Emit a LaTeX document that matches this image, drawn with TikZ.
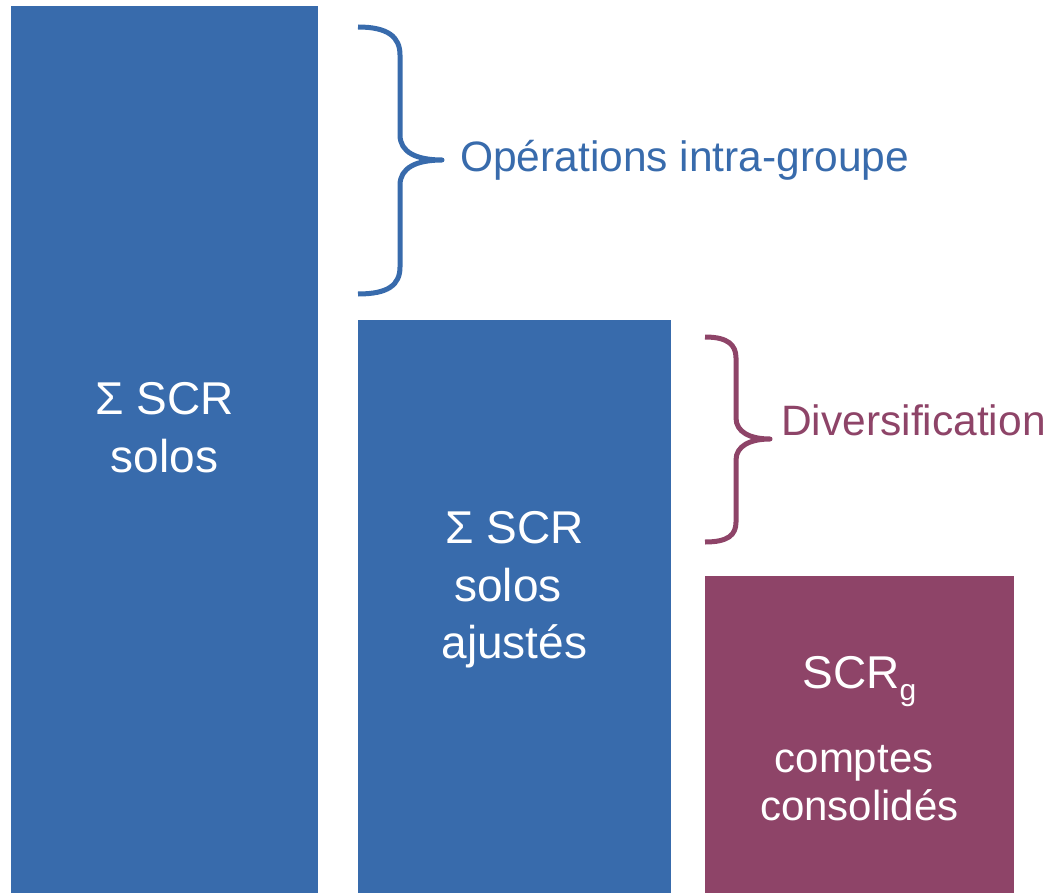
\documentclass[tikz,border=0pt]{standalone}
\usepackage{fontspec}
\setmainfont{Liberation Sans}
\definecolor{barblue}{HTML}{386BAC}
\definecolor{barplum}{HTML}{8E4468}
\begin{document}
\begin{tikzpicture}[x=1pt,y=-1pt,
  bar/.style={draw=none,inner sep=0pt,outer sep=0pt,anchor=north west},
  bartext/.style={text=white,anchor=base,inner sep=0pt,font=\fontsize{46}{56}\selectfont},
  smalltext/.style={text=white,anchor=base,inner sep=0pt,font=\fontsize{42}{50}\selectfont},
  bracelabel/.style={anchor=base west,inner sep=0pt,font=\fontsize{42.5}{50}\selectfont},
  bracepath/.style={line width=5pt,line join=round}]
\useasboundingbox (0,0) rectangle (1048,893);

% bars
\node[bar,fill=barblue,minimum width=307pt,minimum height=887pt] (solo) at (11,6) {};
\node[bar,fill=barblue,minimum width=313pt,minimum height=573pt] (adj) at (358,320) {};
\node[bar,fill=barplum,minimum width=309pt,minimum height=317pt] (grp) at (705,576) {};

% bar labels
\node[bartext] (s1) at (164.5,414) {Σ SCR};
\node[bartext] (s2) at (164.5,472) {solos};
\node[bartext] (a1) at (514.5,543) {Σ SCR};
\node[bartext] (a2) at (508,601) {solos};
\node[bartext] (a3) at (514.5,658) {ajustés};
\node[bartext] (g1) at (859.5,688) {SCR\raisebox{-0.28em}{\fontsize{30}{30}\selectfont g}};
\node[smalltext] (g2) at (854,772) {comptes};
\node[smalltext] (g3) at (859.5,820) {consolidés};

% brace for intra-group operations
\draw[bracepath,barblue] (358,27) .. controls (388,27) and (400,37) .. (400,55)
  -- (400,135) .. controls (400,152) and (416,160) .. (442,160)
  .. controls (416,160) and (400,168) .. (400,185)
  -- (400,267) .. controls (400,285) and (388,294) .. (358,294);
\node[bracelabel,text=barblue] (ops) at (460,172) {Opérations intra-groupe};

% brace for diversification
\draw[bracepath,barplum] (705,337) .. controls (728,337) and (736,345) .. (736,358)
  -- (736,418) .. controls (736,432) and (750,439) .. (770,439)
  .. controls (750,439) and (736,446) .. (736,460)
  -- (736,522) .. controls (736,535) and (728,542) .. (705,542);
\node[bracelabel,text=barplum] (div) at (781,435) {Diversification};
\end{tikzpicture}
\end{document}
